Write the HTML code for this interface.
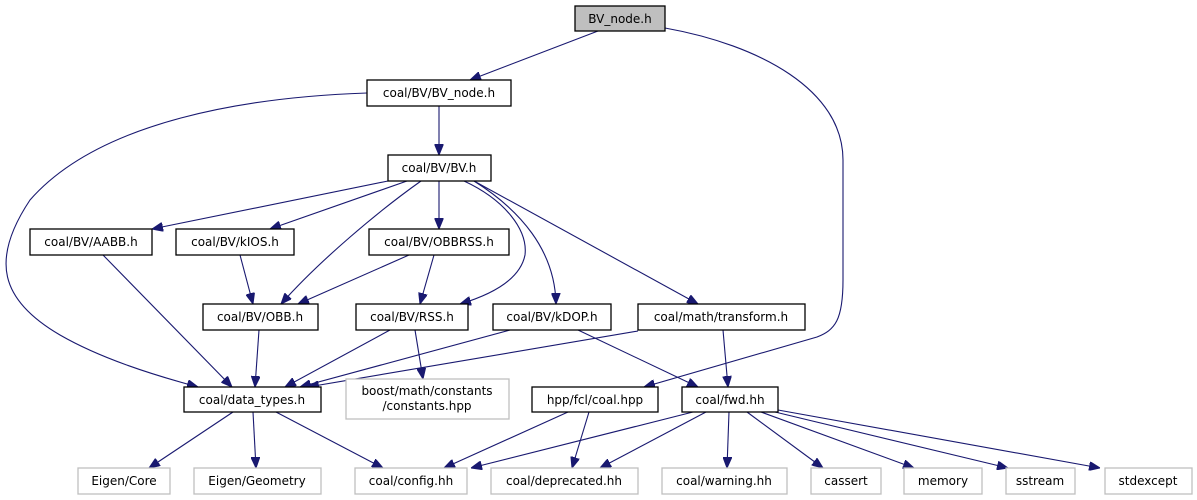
<!DOCTYPE html>
<html><head><meta charset="utf-8"><style>
html,body{margin:0;padding:0;background:#fff;}
svg{display:block;}
text{font-family:"DejaVu Sans","Liberation Sans",sans-serif;font-size:12px;text-anchor:middle;fill:#000;}
.n rect{fill:#fff;stroke:#000;stroke-width:1.3;}
.g rect{fill:#fff;stroke:#bfbfbf;stroke-width:1.3;}
path.e{fill:none;stroke:#191970;stroke-width:1.1;}
</style></head><body>
<svg width="1197" height="500" viewBox="0 0 1197 500" xmlns="http://www.w3.org/2000/svg">
<defs><marker id="a" markerWidth="11" markerHeight="9" refX="11" refY="4.5" orient="auto" markerUnits="userSpaceOnUse"><path d="M0,0 L11,4.5 L0,9 z" fill="#191970" stroke="#191970"/></marker></defs>
<g marker-end="url(#a)">
<path class="e" d="M598,31 L470,80"/>
<path class="e" d="M665,28 C760,45 843,90 843,160 L843,280 C843,320 835,330 817,337 L644,387"/>
<path class="e" d="M367,93 C250,97 100,120 30,200 C-10,260 0,300 60,335 C100,358 150,374 198,387"/>
<path class="e" d="M439,106 L439,155"/>
<path class="e" d="M388,181 L152,229"/>
<path class="e" d="M407,181 L270,229"/>
<path class="e" d="M421,181 C380,210 320,260 281,304"/>
<path class="e" d="M439,181 L439,229"/>
<path class="e" d="M464,181 C505,200 528,230 525,255 C520,280 490,295 460,304"/>
<path class="e" d="M474,181 C520,210 555,250 556,304"/>
<path class="e" d="M474,181 L698,304"/>
<path class="e" d="M103,255 L232,387"/>
<path class="e" d="M240,255 L253,304"/>
<path class="e" d="M409,255 L298,304"/>
<path class="e" d="M434,255 L420,304"/>
<path class="e" d="M259,330 L255,387"/>
<path class="e" d="M390,330 L285,387"/>
<path class="e" d="M415,330 L423,379"/>
<path class="e" d="M510,330 L300,387"/>
<path class="e" d="M638,331 L308,387"/>
<path class="e" d="M578,330 L698,387"/>
<path class="e" d="M723,330 L728,387"/>
<path class="e" d="M233,412 L149,468"/>
<path class="e" d="M253,412 L256,468"/>
<path class="e" d="M276,412 L383,468"/>
<path class="e" d="M568,412 L444,468"/>
<path class="e" d="M589,412 L572,468"/>
<path class="e" d="M693,412 L471,468"/>
<path class="e" d="M706,412 L600,468"/>
<path class="e" d="M729,412 L727,468"/>
<path class="e" d="M747,412 L823,468"/>
<path class="e" d="M761,412 L914,468"/>
<path class="e" d="M775,412 L1008,468"/>
<path class="e" d="M778,410 L1100,468"/>
</g>
<g><rect x="575" y="6" width="90" height="25" fill="#bfbfbf" stroke="#000" stroke-width="1.3"/><text x="620" y="23">BV_node.h</text></g>
<g class="n"><rect x="367" y="80" width="144" height="26"/><text x="439" y="97">coal/BV/BV_node.h</text></g>
<g class="n"><rect x="388" y="155" width="103" height="26"/><text x="439" y="172">coal/BV/BV.h</text></g>
<g class="n"><rect x="30" y="229" width="122" height="26"/><text x="91" y="246">coal/BV/AABB.h</text></g>
<g class="n"><rect x="176" y="229" width="118" height="26"/><text x="235" y="246">coal/BV/kIOS.h</text></g>
<g class="n"><rect x="369" y="229" width="140" height="26"/><text x="439" y="246">coal/BV/OBBRSS.h</text></g>
<g class="n"><rect x="203" y="304" width="115" height="26"/><text x="260" y="321">coal/BV/OBB.h</text></g>
<g class="n"><rect x="356" y="304" width="112" height="26"/><text x="412" y="321">coal/BV/RSS.h</text></g>
<g class="n"><rect x="493" y="304" width="118" height="26"/><text x="552" y="321">coal/BV/kDOP.h</text></g>
<g class="n"><rect x="638" y="304" width="167" height="26"/><text x="721" y="321">coal/math/transform.h</text></g>
<g class="n"><rect x="184" y="387" width="137" height="25"/><text x="252" y="404">coal/data_types.h</text></g>
<g class="g"><rect x="346" y="379" width="163" height="40"/><text x="427" y="395">boost/math/constants</text><text x="427" y="410">/constants.hpp</text></g>
<g class="n"><rect x="532" y="387" width="126" height="25"/><text x="595" y="404">hpp/fcl/coal.hpp</text></g>
<g class="n"><rect x="682" y="387" width="96" height="25"/><text x="730" y="404">coal/fwd.hh</text></g>
<g class="g"><rect x="78" y="468" width="92" height="26"/><text x="124" y="485">Eigen/Core</text></g>
<g class="g"><rect x="194" y="468" width="127" height="26"/><text x="257" y="485">Eigen/Geometry</text></g>
<g class="g"><rect x="355" y="468" width="112" height="26"/><text x="411" y="485">coal/config.hh</text></g>
<g class="g"><rect x="491" y="468" width="147" height="26"/><text x="564" y="485">coal/deprecated.hh</text></g>
<g class="g"><rect x="662" y="468" width="125" height="26"/><text x="724" y="485">coal/warning.hh</text></g>
<g class="g"><rect x="811" y="468" width="70" height="26"/><text x="846" y="485">cassert</text></g>
<g class="g"><rect x="904" y="468" width="78" height="26"/><text x="943" y="485">memory</text></g>
<g class="g"><rect x="1006" y="468" width="69" height="26"/><text x="1040" y="485">sstream</text></g>
<g class="g"><rect x="1105" y="468" width="87" height="26"/><text x="1148" y="485">stdexcept</text></g>
</svg>
</body></html>
